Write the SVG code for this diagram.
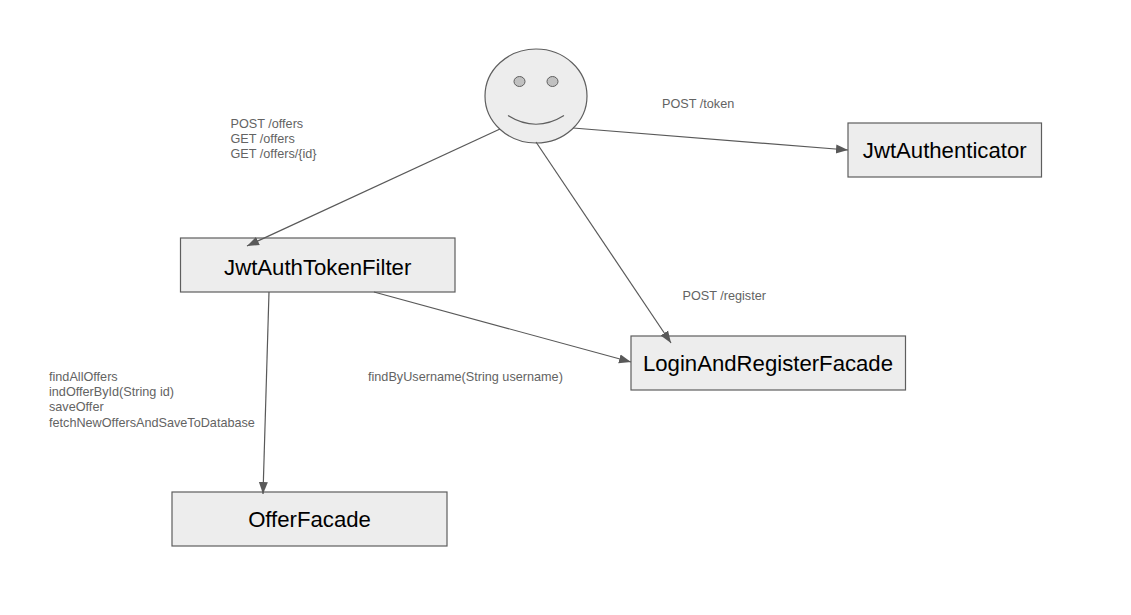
<svg xmlns="http://www.w3.org/2000/svg" width="1131" height="615" viewBox="0 0 1131 615">
<style>
text{font-family:"Liberation Sans",Arial,sans-serif}
.box{fill:#ededed;stroke:#5e5e5e;stroke-width:1.2}
.name{font-size:22.17px;fill:#000;text-anchor:middle}
.lab{font-size:12.67px;fill:#636363}
.c{fill:none;stroke:#595959;stroke-width:1.2;marker-end:url(#arr)}
</style>
<defs><marker id="arr" markerUnits="userSpaceOnUse" markerWidth="14" markerHeight="12" refX="12" refY="5" orient="auto"><path d="M0 0.500L12 5L0 9.500Z" fill="#595959"/></marker></defs>
<rect width="1131" height="615" fill="#fff"/>
<g id="user">
<ellipse cx="536" cy="96" rx="51" ry="47" fill="#ededed" stroke="#5e5e5e" stroke-width="1.2"/>
<ellipse cx="519.500" cy="81.500" rx="5.500" ry="5" fill="#c0c0c0" stroke="#5e5e5e"/>
<ellipse cx="552.500" cy="81.500" rx="5.500" ry="5" fill="#c0c0c0" stroke="#5e5e5e"/>
<path d="M508 115.500Q536 133 564 115.500" fill="none" stroke="#5e5e5e" stroke-width="1.2"/>
</g>
<g id="JwtAuthenticator"><rect class="box" x="848" y="123" width="193.500" height="54"/><text class="name" x="944.700" y="158">JwtAuthenticator</text></g>
<g id="JwtAuthTokenFilter"><rect class="box" x="180.500" y="238" width="274.500" height="54"/><text class="name" x="317.700" y="274.500">JwtAuthTokenFilter</text></g>
<g id="LoginAndRegisterFacade"><rect class="box" x="631" y="336" width="274.500" height="54"/><text class="name" x="768" y="371">LoginAndRegisterFacade</text></g>
<g id="OfferFacade"><rect class="box" x="172" y="492" width="275" height="54"/><text class="name" x="309.500" y="527">OfferFacade</text></g>
<g id="connectors">
<path class="c" d="M500 129L247 246"/>
<path class="c" d="M573 128L848 150"/>
<path class="c" d="M536 142L671 343"/>
<path class="c" d="M374 292L631 362"/>
<path class="c" d="M269 292L263 494"/>
</g>
<g id="labels">
<text class="lab" x="662" y="108">POST /token</text>
<text class="lab" x="682.500" y="300">POST /register</text>
<text class="lab" x="230.500" y="128">POST /offers</text>
<text class="lab" x="230.500" y="143">GET /offers</text>
<text class="lab" x="230.500" y="158">GET /offers/{id}</text>
<text class="lab" x="368" y="381">findByUsername(String username)</text>
<text class="lab" x="49" y="381">findAllOffers</text>
<text class="lab" x="49" y="396">indOfferById(String id)</text>
<text class="lab" x="49" y="411">saveOffer</text>
<text class="lab" x="49" y="427">fetchNewOffersAndSaveToDatabase</text>
</g>
</svg>
